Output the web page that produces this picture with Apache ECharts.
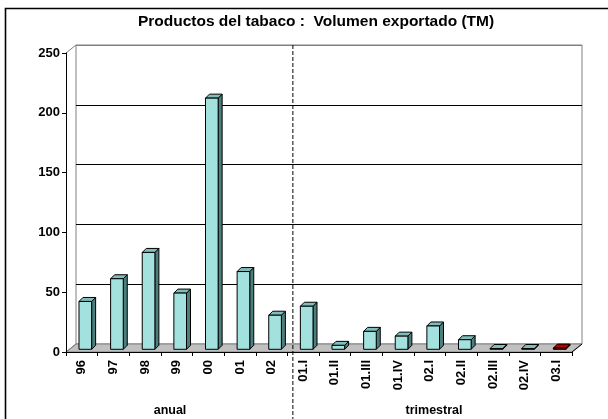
<!DOCTYPE html>
<html><head><meta charset="utf-8">
<script src="https://cdn.jsdelivr.net/npm/echarts@6/dist/echarts.min.js"></script>
<style>html,body{margin:0;padding:0;background:#fff}#c{width:608px;height:419px}</style>
</head><body><div id="c"></div>
<script>
// ---- data ----
const categories = ['96','97','98','99','00','01','02','01.I','01.II','01.III','01.IV','02.I','02.II','02.III','02.IV','03.I'];
const values = [40, 59, 81, 47, 210, 65, 28.5, 36, 3.3, 15, 11, 19.5, 8, 0.6, 0.6, 1];
const yMin = 0, yMax = 250, yStep = 50;
const groupNames = ['anual', 'trimestral'];
const groupSizes = [7, 9];
const highlighted = '03.I';
const titleText = 'Productos del tabaco :  Volumen exportado (TM)';

// ---- layout / style ----
const FONT = '"Liberation Sans", Arial, sans-serif';
const DX = 10, DY = -8;        // depth of the 3D box
const BOX = 4;                 // depth of each bar

const chart = echarts.init(document.getElementById('c'), null, {renderer: 'canvas'});

function renderFloor(params, api) {
  const bw = api.size([1, 0])[0];
  const p = api.coord([0, 0]);
  const L = p[0] - bw / 2, R = L + bw * categories.length, y0 = p[1];
  const topY = api.coord([0, yMax])[1];
  const sep = L + bw * groupSizes[0] + 5.5;
  return {type: 'group', children: [
    {type: 'polygon', shape: {points: [[L, y0], [R, y0], [R + DX, y0 + DY], [L + DX, y0 + DY]]},
     style: {fill: '#c0c0c0', stroke: '#808080', lineWidth: 1}},
    {type: 'line', shape: {x1: R, y1: y0, x2: R + DX, y2: y0 + DY}, style: {stroke: '#000', lineWidth: 1}},
    {type: 'line', shape: {x1: L, y1: topY, x2: L + DX, y2: topY + DY}, style: {stroke: '#808080', lineWidth: 1}},
    {type: 'line', shape: {x1: L, y1: y0, x2: L + DX, y2: y0 + DY}, style: {stroke: '#808080', lineWidth: 1}},
    {type: 'line', shape: {x1: sep, y1: topY + DY, x2: sep, y2: 440},
     style: {stroke: '#000', lineWidth: 1, lineDash: [4, 2]}}
  ]};
}

function renderBar(params, api) {
  const i = api.value(0), v = api.value(1);
  const base = api.coord([i, 0]);
  const top = api.coord([i, v]);
  const bw = api.size([1, 0])[0];
  const w = bw * 0.40;
  const ox = 3.5, oy = -2.7;
  const x0 = base[0] + ox - w / 2, x1 = x0 + w;
  const yb = base[1] + oy;
  const yt = Math.min(top[1] + oy, yb - 0.8);
  const red = categories[i] === highlighted;
  const cf = red ? '#cc0000' : '#a3e1df';
  const ct = red ? '#b00000' : '#7fbdbb';
  const cs = red ? '#660000' : '#4c7e7d';
  return {type: 'group', children: [
    {type: 'polygon', shape: {points: [[x1, yt], [x1 + BOX, yt - BOX], [x1 + BOX, yb - BOX], [x1, yb]]},
     style: {fill: cs, stroke: '#000', lineWidth: 1}},
    {type: 'polygon', shape: {points: [[x0, yt], [x1, yt], [x1 + BOX, yt - BOX], [x0 + BOX, yt - BOX]]},
     style: {fill: ct, stroke: '#000', lineWidth: 1}},
    {type: 'rect', shape: {x: x0, y: yt, width: w, height: yb - yt},
     style: {fill: cf, stroke: '#000', lineWidth: 1}}
  ]};
}

const option = {
  backgroundColor: '#fff',
  animation: false,
  graphic: [
    {type: 'rect', shape: {x: 5.5, y: 8.5, width: 700, height: 500},
     style: {fill: 'none', stroke: '#000', lineWidth: 1.6}, z: 100},
    {type: 'text', x: 316, y: 22,
     style: {text: titleText, font: 'bold 15.5px ' + FONT, fill: '#000', align: 'center', verticalAlign: 'middle'}},
    {type: 'text', x: 170, y: 411,
     style: {text: groupNames[0], font: 'bold 12.5px ' + FONT, fill: '#000', align: 'center', verticalAlign: 'middle'}},
    {type: 'text', x: 434, y: 411,
     style: {text: groupNames[1], font: 'bold 12.5px ' + FONT, fill: '#000', align: 'center', verticalAlign: 'middle'}}
  ],
  grid: [
    {left: 66, right: 36, top: 53, bottom: 67, containLabel: false},
    {left: 66 + DX, right: 36 - DX, top: 53 + DY, bottom: 67 - DY, show: true,
     borderColor: '#808080', borderWidth: 1, backgroundColor: 'transparent'}
  ],
  xAxis: [
    {type: 'category', gridIndex: 0, data: categories, boundaryGap: true,
     axisLine: {show: true, lineStyle: {color: '#000', width: 1}},
     axisTick: {show: true, length: 4, lineStyle: {color: '#000'}},
     axisLabel: {interval: 0, rotate: 90, margin: 8, color: '#000', fontWeight: 'bold', fontSize: 13, fontFamily: FONT},
     splitLine: {show: false}, z: 5},
    {type: 'category', gridIndex: 1, data: categories, show: false}
  ],
  yAxis: [
    {type: 'value', gridIndex: 0, min: yMin, max: yMax, interval: yStep,
     axisLine: {show: true, lineStyle: {color: '#000', width: 1}},
     axisTick: {show: true, length: 4, lineStyle: {color: '#000'}},
     axisLabel: {margin: 6, color: '#000', fontWeight: 'bold', fontSize: 13, fontFamily: FONT},
     splitLine: {show: false}, z: 5},
    {type: 'value', gridIndex: 1, min: yMin, max: yMax, interval: yStep,
     axisLine: {show: false}, axisTick: {show: false}, axisLabel: {show: false},
     splitLine: {show: true, lineStyle: {color: ['#808080', '#000', '#000', '#000', '#000', '#808080'], width: 1}}}
  ],
  series: [
    {type: 'custom', name: 'floor', xAxisIndex: 0, yAxisIndex: 0, clip: false, z: 1,
     renderItem: renderFloor, data: [[0, 0]], silent: true},
    {type: 'custom', name: 'Volumen exportado', xAxisIndex: 0, yAxisIndex: 0, clip: false, z: 3,
     renderItem: renderBar, data: categories.map((c, i) => [i, values[i]])}
  ]
};
chart.setOption(option);
</script>
</body></html>
